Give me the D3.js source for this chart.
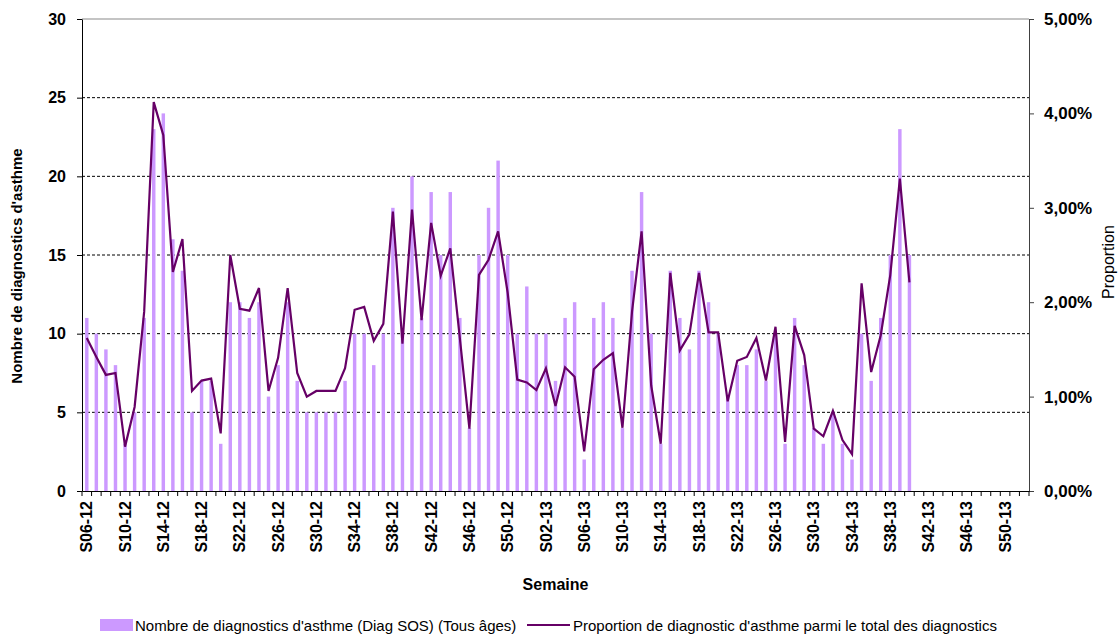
<!DOCTYPE html>
<html>
<head>
<meta charset="utf-8">
<script src="https://cdn.jsdelivr.net/npm/d3@7"></script>
<style>
  html, body { margin: 0; padding: 0; background: #fff; overflow: hidden; }
  svg { display: block; }
</style>
</head>
<body>
<svg id="chart"></svg>
<script>
// weeks on the x axis (S06-12 .. S52-13)
var weeks = ["S06-12","S07-12","S08-12","S09-12","S10-12","S11-12","S12-12","S13-12","S14-12","S15-12",
  "S16-12","S17-12","S18-12","S19-12","S20-12","S21-12","S22-12","S23-12","S24-12","S25-12",
  "S26-12","S27-12","S28-12","S29-12","S30-12","S31-12","S32-12","S33-12","S34-12","S35-12",
  "S36-12","S37-12","S38-12","S39-12","S40-12","S41-12","S42-12","S43-12","S44-12","S45-12",
  "S46-12","S47-12","S48-12","S49-12","S50-12","S51-12","S52-12","S01-13","S02-13","S03-13",
  "S04-13","S05-13","S06-13","S07-13","S08-13","S09-13","S10-13","S11-13","S12-13","S13-13",
  "S14-13","S15-13","S16-13","S17-13","S18-13","S19-13","S20-13","S21-13","S22-13","S23-13",
  "S24-13","S25-13","S26-13","S27-13","S28-13","S29-13","S30-13","S31-13","S32-13","S33-13",
  "S34-13","S35-13","S36-13","S37-13","S38-13","S39-13","S40-13","S41-13","S42-13","S43-13",
  "S44-13","S45-13","S46-13","S47-13","S48-13","S49-13","S50-13","S51-13","S52-13"];

// number of asthma diagnostics (bars), S06-12 .. S40-13
var counts = [11,10,9,8,3,5,11,23,24,16,
  14,5,7,7,3,12,12,11,12,6,
  8,12,7,5,5,5,5,7,10,10,
  8,10,18,10,20,11,19,15,19,11,
  4,15,18,21,15,10,13,10,10,7,
  11,12,2,11,12,11,4,14,19,10,
  3,14,11,9,14,12,10,6,8,8,
  9,7,10,3,11,8,4,3,5,3,
  2,10,7,11,15,23,15];

// proportion of asthma among all diagnostics, in %
var proportions = [1.62,1.42,1.23,1.25,0.47,0.89,1.90,4.12,3.77,2.32,
  2.67,1.06,1.17,1.19,0.61,2.50,1.93,1.91,2.15,1.06,
  1.41,2.15,1.25,1.00,1.06,1.06,1.06,1.30,1.92,1.95,
  1.59,1.77,2.96,1.56,2.98,1.81,2.84,2.28,2.57,1.62,
  0.66,2.29,2.45,2.75,2.10,1.18,1.15,1.07,1.30,0.90,
  1.31,1.21,0.42,1.29,1.39,1.46,0.67,1.90,2.75,1.12,
  0.50,2.31,1.49,1.66,2.31,1.68,1.68,0.95,1.38,1.42,
  1.62,1.17,1.74,0.52,1.75,1.44,0.66,0.58,0.85,0.54,
  0.39,2.20,1.26,1.65,2.29,3.31,2.21];

var leftTicks = [0,5,10,15,20,25,30],
    rightTicks = [0,1,2,3,4,5],
    xLabels = weeks.filter(function(d, i){ return i % 4 == 0; });

var width = 1120, height = 634,
    margin = {top: 19, right: 91, bottom: 143, left: 82},
    innerWidth = width - margin.left - margin.right,
    innerHeight = height - margin.top - margin.bottom;

var barColor = "#cc99ff", lineColor = "#660066",
    font = "Liberation Sans, Arial, sans-serif";

var xScale = d3.scaleBand()
      .domain(weeks)
      .range([0, innerWidth])
      .padding(0),
    yLeft = d3.scaleLinear().domain([0, 30]).range([innerHeight, 0]),
    yRight = d3.scaleLinear().domain([0, 5]).range([innerHeight, 0]);

var barW = xScale.bandwidth() * 0.36;

var svg = d3.select("#chart")
    .attr("width", width)
    .attr("height", height)
    .attr("font-family", font);

var g = svg.append("g")
    .attr("transform", "translate(" + margin.left + "," + margin.top + ")");

// gridlines
g.append("g")
  .selectAll("line")
  .data(leftTicks.filter(function(d){ return d > 0; }))
  .enter().append("line")
    .attr("x1", 0)
    .attr("x2", innerWidth)
    .attr("y1", function(d){ return yLeft(d); })
    .attr("y2", function(d){ return yLeft(d); })
    .attr("stroke", function(d){ return d == 30 ? "#b0b0b0" : "#000"; })
    .attr("stroke-width", function(d){ return d == 30 ? 1.5 : 1; })
    .attr("stroke-dasharray", function(d){ return d == 30 ? null : "3,2"; });

// bars
g.append("g")
  .selectAll("rect")
  .data(counts)
  .enter().append("rect")
    .attr("x", function(d, i){ return xScale(weeks[i]) + xScale.bandwidth() / 2 - barW / 2; })
    .attr("y", function(d){ return yLeft(d); })
    .attr("width", barW)
    .attr("height", function(d){ return innerHeight - yLeft(d); })
    .attr("fill", barColor);

// proportion line
var line = d3.line()
    .x(function(d, i){ return xScale(weeks[i]) + xScale.bandwidth() / 2; })
    .y(function(d){ return yRight(d); });

g.append("path")
    .datum(proportions)
    .attr("d", line)
    .attr("fill", "none")
    .attr("stroke", lineColor)
    .attr("stroke-width", 2.2)
    .attr("stroke-linejoin", "miter");

// left axis
var yAxisL = d3.axisLeft(yLeft)
    .tickValues(leftTicks)
    .tickSize(5)
    .tickSizeOuter(0)
    .tickPadding(11);

g.append("g")
    .call(yAxisL)
    .attr("font-size", 16)
    .attr("font-family", font)
    .attr("font-weight", "bold")
    .call(function(a){
      a.select(".domain").attr("stroke", "#000");
      a.selectAll("text").attr("fill", "#000");
    });

// right axis
var yAxisR = d3.axisRight(yRight)
    .tickValues(rightTicks)
    .tickSize(5)
    .tickSizeOuter(0)
    .tickPadding(10)
    .tickFormat(function(d){ return d.toFixed(2).replace(".", ",") + "%"; });

g.append("g")
    .attr("transform", "translate(" + innerWidth + ",0)")
    .call(yAxisR)
    .attr("font-size", 17)
    .attr("font-family", font)
    .attr("font-weight", "bold")
    .call(function(a){
      a.select(".domain").attr("stroke", "#404040");
      a.selectAll("line").attr("stroke", "#404040");
      a.selectAll("text").attr("fill", "#000");
    });

// bottom axis
var xAxis = d3.axisBottom(xScale)
    .tickValues(xLabels)
    .tickSize(0)
    .tickSizeOuter(0);

var xg = g.append("g")
    .attr("transform", "translate(0," + innerHeight + ")")
    .call(xAxis)
    .attr("font-size", 16)
    .attr("font-family", font)
    .attr("font-weight", "bold");

xg.select(".domain").attr("stroke", "#000");
xg.selectAll("text")
    .attr("transform", "rotate(-90)")
    .attr("x", -10)
    .attr("y", 0)
    .attr("dy", "0.35em")
    .attr("text-anchor", "end")
    .attr("fill", "#000");

// tick marks between categories
xg.append("g")
  .selectAll("line")
  .data(weeks.concat(["end"]))
  .enter().append("line")
    .attr("x1", function(d){ return d == "end" ? innerWidth : xScale(d); })
    .attr("x2", function(d){ return d == "end" ? innerWidth : xScale(d); })
    .attr("y1", 0)
    .attr("y2", 5)
    .attr("stroke", "#000");

// axis titles
svg.append("text")
    .attr("transform", "translate(22,266) rotate(-90)")
    .attr("text-anchor", "middle")
    .attr("font-size", 15)
    .attr("font-weight", "bold")
    .text("Nombre de diagnostics d'asthme");

svg.append("text")
    .attr("transform", "translate(1114,262) rotate(-90)")
    .attr("text-anchor", "middle")
    .attr("font-size", 16)
    .text("Proportion");

svg.append("text")
    .attr("x", margin.left + innerWidth / 2)
    .attr("y", 590)
    .attr("text-anchor", "middle")
    .attr("font-size", 16)
    .attr("font-weight", "bold")
    .text("Semaine");

// legend
var legend = svg.append("g").attr("font-size", 15);

legend.append("rect")
    .attr("x", 100).attr("y", 619)
    .attr("width", 33).attr("height", 12)
    .attr("fill", barColor);
legend.append("text")
    .attr("x", 135).attr("y", 631)
    .text("Nombre de diagnostics d'asthme (Diag SOS) (Tous âges)");

legend.append("line")
    .attr("x1", 527).attr("x2", 570)
    .attr("y1", 625).attr("y2", 625)
    .attr("stroke", lineColor)
    .attr("stroke-width", 2.2);
legend.append("text")
    .attr("x", 573).attr("y", 631)
    .text("Proportion de diagnostic d'asthme parmi le total des diagnostics");
</script>
</body>
</html>
